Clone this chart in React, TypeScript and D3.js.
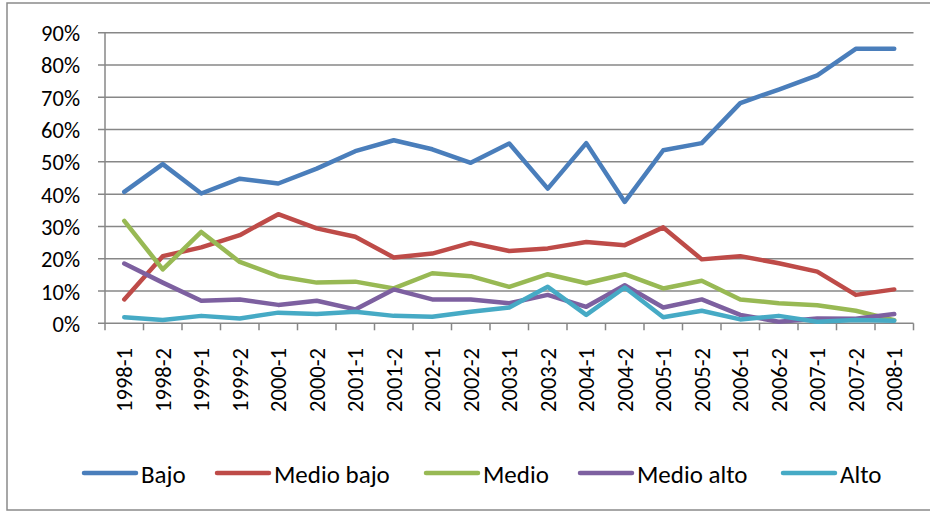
import React from "react";
import * as d3 from "d3";

const categories = ["1998-1","1998-2","1999-1","1999-2","2000-1","2000-2","2001-1","2001-2","2002-1","2002-2","2003-1","2003-2","2004-1","2004-2","2005-1","2005-2","2006-1","2006-2","2007-1","2007-2","2008-1"];

const bajo = [40.7,49.3,40.2,44.8,43.3,47.9,53.3,56.7,53.9,49.7,55.7,41.7,55.8,37.6,53.6,55.8,68.2,72.4,76.8,85.0,85.0];
const medioBajo = [7.4,20.8,23.5,27.3,33.8,29.4,26.8,20.4,21.6,24.9,22.4,23.2,25.2,24.2,29.7,19.8,20.8,18.6,16.0,8.8,10.5];
const medio = [31.7,16.7,28.3,19.0,14.6,12.6,12.9,10.8,15.5,14.6,11.3,15.2,12.4,15.2,10.8,13.2,7.4,6.2,5.6,3.9,1.0];
const medioAlto = [18.5,12.6,7.0,7.4,5.7,7.0,4.3,10.5,7.4,7.4,6.2,8.8,5.1,11.8,4.9,7.4,2.6,0.5,1.5,1.4,2.9];
const alto = [1.9,1.0,2.3,1.5,3.3,2.9,3.6,2.3,2.0,3.6,4.9,11.3,2.6,11.1,1.9,3.9,1.2,2.3,0.5,1.0,0.8];

const yTicks = [0,10,20,30,40,50,60,70,80,90];

const seriesNames = ["Bajo","Medio bajo","Medio","Medio alto","Alto"];
const seriesColors = ["#4A7EBB","#BE4B48","#98B954","#7D60A0","#46AAC5"];
const seriesData = [bajo, medioBajo, medio, medioAlto, alto];

const FONT = "Carlito, Calibri, Lato, sans-serif";

export default function App() {
  const W = 930, H = 512;
  const left = 105, right = 913.5, top = 32.7, bottom = 323.3;
  const x = d3.scaleBand<string>().domain(categories).range([left, right]).padding(0);
  const y = d3.scaleLinear().domain([0, 90]).range([bottom, top]);
  const line = d3.line<number>()
    .x((_, i) => (x(categories[i]) as number) + x.bandwidth() / 2)
    .y((d) => y(d));

  const gridColor = "#878787";
  const legendX = [84, 217, 426, 580, 783];

  return (
    <svg width={W} height={H} style={{ position: "absolute", left: 0, top: 0 }} fontFamily={FONT}>
      <rect x={0} y={0} width={W} height={H} fill="#fff" />
      <rect x={7} y={3} width={940} height={507} fill="none" stroke="#8a8a8a" strokeWidth={1.5} />
      {yTicks.map((t) => (
        <g key={t}>
          <line x1={98} x2={right} y1={y(t)} y2={y(t)} stroke={gridColor} strokeWidth={1.5} />
          <text x={80} y={y(t) + 1} textAnchor="end" dominantBaseline="central" fontSize={22.5} fill="#000">{t}%</text>
        </g>
      ))}
      <line x1={left} x2={left} y1={top} y2={bottom} stroke={gridColor} strokeWidth={1.5} />
      {categories.map((c, i) => (
        <line key={"t" + i} x1={x(c) as number} x2={x(c) as number} y1={bottom} y2={bottom + 7} stroke={gridColor} strokeWidth={1.5} />
      ))}
      <line x1={right} x2={right} y1={bottom} y2={bottom + 7} stroke={gridColor} strokeWidth={1.5} />
      {categories.map((c, i) => {
        const cx = (x(c) as number) + x.bandwidth() / 2;
        return (
          <text key={"l" + i} transform={`translate(${cx + 0.5},${348}) rotate(-90)`} textAnchor="end" dominantBaseline="central" fontSize={22.5} fill="#000">{c}</text>
        );
      })}
      {seriesData.map((s, k) => (
        <path key={"s" + k} d={line(s) as string} fill="none" stroke={seriesColors[k]} strokeWidth={4.5} strokeLinejoin="round" strokeLinecap="round" />
      ))}
      {seriesNames.map((n, k) => (
        <g key={"g" + k}>
          <line x1={legendX[k]} x2={legendX[k] + 52} y1={473} y2={473} stroke={seriesColors[k]} strokeWidth={4.5} strokeLinecap="round" />
          <text x={legendX[k] + 57} y={474} dominantBaseline="central" fontSize={25} fill="#000">{n}</text>
        </g>
      ))}
    </svg>
  );
}
